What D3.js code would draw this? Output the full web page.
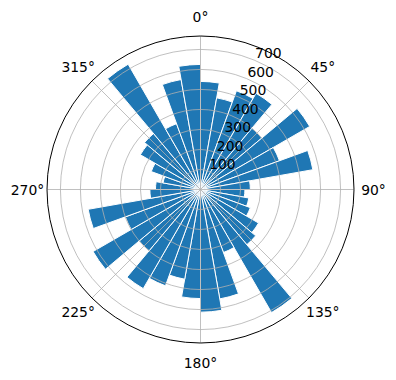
<!DOCTYPE html>
<html><head><meta charset="utf-8">
<script src="https://cdn.jsdelivr.net/npm/d3@7/dist/d3.min.js"></script>
<style>body{margin:0;background:#fff}svg text{font-family:"DejaVu Sans",sans-serif;fill:#000}</style>
</head><body><svg id="chart" width="396" height="380"></svg>
<script>
// Direction bins (degrees, clockwise from north), 10° wide
const binStarts = [0,10,20,30,40,50,60,70,80,90,100,110,120,130,140,150,160,170,
                   180,190,200,210,220,230,240,250,260,270,280,290,300,310,320,330,340,350];
const counts = [540,465,525,555,400,630,420,570,249,222,245,265,335,360,710,335,555,613,
                545,455,512,572,400,620,400,570,253,225,190,262,347,365,723,350,558,625];
const binWidth = 10;
const radialTicks = [100,200,300,400,500,600,700];
const angleTicks = [0,45,90,135,180,225,270,315];
const angleLabels = ["0°","45°","90°","135°","180°","225°","270°","315°"];
const rMax = 767;

const cx = 200.5, cy = 189.5, R = 153.5;
const svg = d3.select("#chart");
svg.append("rect").attr("width",396).attr("height",380).attr("fill","#fff");
const g = svg.append("g").attr("transform", `translate(${cx},${cy})`);

const theta = d3.scaleLinear().domain([0,360]).range([0, 2*Math.PI]);
const r = d3.scaleLinear().domain([0, rMax]).range([0, R]);

const data = binStarts.map((a,i)=>({a, v: counts[i]}));
const arc = d3.arc()
  .innerRadius(0)
  .outerRadius(d => r(d.v))
  .startAngle(d => theta(d.a))
  .endAngle(d => theta(d.a + binWidth));

g.selectAll("path.bar").data(data).join("path")
  .attr("class","bar")
  .attr("d", arc)
  .attr("fill","#1f77b4")
  .attr("stroke","#fff")
  .attr("stroke-width",1);

// grid (drawn above bars)
g.selectAll("circle.ring").data(radialTicks).join("circle")
  .attr("class","ring").attr("r", d => r(d))
  .attr("fill","none").attr("stroke","#b0b0b0").attr("stroke-width",0.8);
g.selectAll("line.spoke").data(angleTicks).join("line")
  .attr("class","spoke")
  .attr("x1",0).attr("y1",0)
  .attr("x2", d => R*Math.sin(theta(d)))
  .attr("y2", d => -R*Math.cos(theta(d)))
  .attr("stroke","#b0b0b0").attr("stroke-width",0.8);

// outer frame
g.append("circle").attr("r", R).attr("fill","none").attr("stroke","#000").attr("stroke-width",1);

// radial labels at 22.5°
const rl = theta(22.5);
g.selectAll("text.rlab").data(radialTicks).join("text")
  .attr("class","rlab")
  .attr("x", d => r(d)*Math.sin(rl) + 1)
  .attr("y", d => -r(d)*Math.cos(rl) - 2)
  .attr("font-size","13.9px")
  .attr("text-anchor","start")
  .text(d => d);

// angle labels
const RL = R + 19.5;
g.selectAll("text.alab").data(angleTicks).join("text")
  .attr("class","alab")
  .attr("x", d => RL*Math.sin(theta(d)))
  .attr("y", d => -RL*Math.cos(theta(d)) + 5)
  .attr("font-size","13.9px")
  .attr("text-anchor","middle")
  .text((d,i) => angleLabels[i]);
</script></body></html>
